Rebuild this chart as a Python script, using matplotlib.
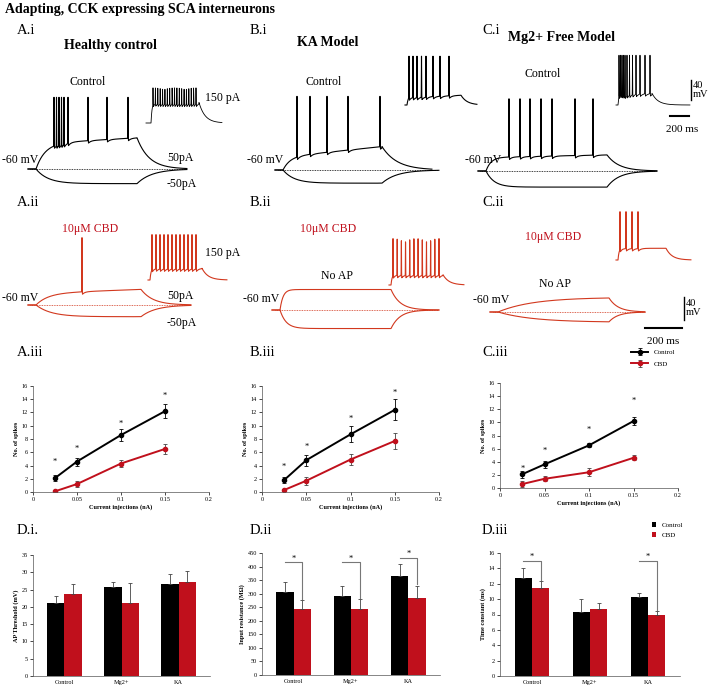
import numpy as np
import matplotlib
matplotlib.use("Agg")
import matplotlib.pyplot as plt

W, H = 709, 690
plt.rcParams['font.family'] = ['Liberation Serif', 'DejaVu Serif']

RED = '#c0101c'
TRED = '#d2381e'

# ---------------- data ----------------
currents = [0.025, 0.05, 0.1, 0.15]
spk_ctrl = {'A': [2.1, 4.6, 8.6, 12.2], 'B': [1.8, 4.8, 8.7, 12.4], 'C': [2.1, 3.6, 6.5, 10.2]}
spk_ctrl_err = {'A': [0.5, 0.6, 0.9, 1.1], 'B': [0.4, 0.8, 1.2, 1.6], 'C': [0.5, 0.5, 0.3, 0.6]}
spk_cbd = {'A': [0.1, 1.2, 4.3, 6.5], 'B': [0.3, 1.7, 4.9, 7.7], 'C': [0.6, 1.4, 2.4, 4.6]}
spk_cbd_err = {'A': [0.2, 0.4, 0.6, 0.7], 'B': [0.2, 0.6, 0.8, 1.2], 'C': [0.4, 0.4, 0.6, 0.4]}
star_y = {'A': [4.6, 6.5, 10.3, 14.5], 'B': [3.8, 6.8, 11.1, 14.9], 'C': [2.9, 5.7, 8.8, 13.2]}

groups = ['Control', 'Mg2+', 'KA']
thr_ctrl = [21.0, 25.8, 26.7]; thr_ctrl_err = [2.0, 1.5, 2.8]
thr_cbd = [23.8, 21.2, 27.3]; thr_cbd_err = [2.8, 5.6, 3.0]
rin_ctrl = [305, 290, 365]; rin_ctrl_err = [37, 37, 43]
rin_cbd = [245, 245, 285]; rin_cbd_err = [30, 37, 45]
tau_ctrl = [12.8, 8.3, 10.3]; tau_ctrl_err = [1.3, 1.7, 0.5]
tau_cbd = [11.5, 8.7, 8.0]; tau_cbd_err = [0.8, 0.8, 0.4]

fig = plt.figure(figsize=(W / 100, H / 100), dpi=100)

def rect(x0, y0, x1, y1):
    return [x0 / W, 1 - y1 / H, (x1 - x0) / W, (y1 - y0) / H]

def ftext(x, y, s, **kw):
    kw.setdefault('fontsize', 9)
    kw.setdefault('va', 'center')
    fig.text(x / W, 1 - y / H, s, **kw)

# ---------------- traces (overlay in pixel space) ----------------
ov = fig.add_axes([0, 0, 1, 1])
ov.set_xlim(0, W); ov.set_ylim(H, 0); ov.axis('off')
MS_PX, MV_PX = 10.0, 2.05

def trace(x0, y0, dur, plateau, drift=0, tau_on=80, tau_off=150, spikes=(), peak=0,
          pre=80, post=500, sign=1, color='k', lw=0.8):
    t = np.arange(-pre, dur + post, 1.0)
    v = np.zeros_like(t)
    on = (t >= 0) & (t < dur)
    v[on] = plateau * (1 - np.exp(-t[on] / tau_on)) + drift * t[on] / dur
    vend = plateau * (1 - np.exp(-dur / tau_on)) + drift
    off = t >= dur
    v[off] = vend * np.exp(-(t[off] - dur) / tau_off)
    v = sign * v
    for s in spikes:
        vs = np.interp(s, t, v)
        v += (peak - vs) * np.exp(-((t - s) / 1.5) ** 2)
        ahp = (t > s + 4) & (t < dur)
        v[ahp] -= 6 * np.exp(-(t[ahp] - s) / 25)
    ov.plot(x0 + t / MS_PX, y0 - v / MV_PX, color=color, lw=lw)

def dotted(x0, x1, y, color):
    ov.plot([x0, x1], [y, y], ls=(0, (1, 1)), color=color, lw=0.6)

# A.i
trace(36, 169, 1010, 52, 12, 90, 120, [180, 205, 230, 255, 280, 320, 520, 710, 920], 147)
trace(36, 169, 1010, 30, 0, 120, 150, sign=-1)
dotted(30, 185, 169, 'k')
trace(151, 123, 480, 42, 0, 10, 60, list(np.linspace(20, 450, 19)), 72, pre=50, post=230, lw=0.6)
# B.i
trace(283, 170, 990, 27, 21, 70, 150, [140, 270, 440, 650, 970], 151)
trace(283, 170, 990, 27, 0, 110, 150, sign=-1, post=570)
dotted(278, 438, 170, 'k')
trace(407, 105, 540, 16, 4, 10, 60, [20, 60, 100, 145, 190, 260, 330, 420], 100, pre=20, post=160)
# C.i
trace(486, 171, 1210, 28, 5, 50, 120, [230, 340, 440, 550, 660, 890, 1070], 148)
trace(486, 171, 1210, 33, 0, 80, 120, sign=-1, post=500)
dotted(480, 655, 171, 'k')
trace(618, 105, 340, 24, 0, 10, 60, [10, 25, 40, 55, 70, 90, 115, 145, 180, 220, 270, 320], 102,
      pre=20, post=380, lw=0.6)
# A.ii
trace(36, 305, 1050, 24, 8, 120, 120, [460], 138, color=TRED)
trace(36, 305, 1050, 24, 0, 150, 150, sign=-1, color=TRED)
dotted(30, 190, 305, TRED)
trace(150, 280, 520, 24, 0, 10, 60, list(np.linspace(20, 460, 12)), 93, pre=20, post=250, color=TRED)
# B.ii
trace(280, 310, 1110, 42, 0, 30, 90, color=TRED, post=480)
trace(280, 310, 1110, 38, 0, 60, 90, sign=-1, color=TRED, post=480)
dotted(275, 438, 310, TRED)
trace(391, 285, 520, 21, 0, 10, 60, list(np.linspace(20, 480, 12)), 95, pre=20, post=210, color=TRED)
# C.ii
trace(498, 312, 1110, 30, 0, 350, 90, color=TRED, post=360)
trace(498, 312, 1110, 21, 0, 350, 90, sign=-1, color=TRED, post=360)
dotted(493, 645, 312, TRED)
trace(618, 260, 480, 24, 0, 10, 60, [20, 80, 140, 200], 99, pre=20, post=250, color=TRED)

# scale bars
ov.plot([691, 691], [80, 100], color='k', lw=1)
ov.plot([670, 689], [116, 116], color='k', lw=1.5)
ov.plot([684, 684], [297, 320], color='k', lw=1)
ov.plot([645, 682], [328, 328], color='k', lw=1.5)
ftext(693, 90, '40\nmV', fontsize=7.5, linespacing=1.0)
ftext(682, 129, '200 ms', fontsize=8, ha='center')
ftext(686, 308, '40\nmV', fontsize=7.5, linespacing=1.0)
ftext(663, 341, '200 ms', fontsize=8, ha='center')

# ---------------- texts ----------------
ftext(5, 9, 'Adapting, CCK expressing SCA interneurons', fontsize=10, fontweight='bold')
for x, s in [(17, 'A.i'), (250, 'B.i'), (482, 'C.i')]:
    ftext(x, 31, s, fontsize=10.5)
for x, s in [(17, 'A.ii'), (250, 'B.ii'), (482, 'C.ii')]:
    ftext(x, 203, s, fontsize=10.5)
for x, s in [(17, 'A.iii'), (250, 'B.iii'), (482, 'C.iii')]:
    ftext(x, 352, s, fontsize=10.5)
for x, s in [(17, 'D.i.'), (250, 'D.ii'), (482, 'D.iii')]:
    ftext(x, 530, s, fontsize=10.5)
ftext(110, 45, 'Healthy control', fontsize=10, fontweight='bold', ha='center')
ftext(328, 42, 'KA Model', fontsize=10, fontweight='bold', ha='center')
ftext(561, 38, 'Mg2+ Free Model', fontsize=10, fontweight='bold', ha='center')
for x, y in [(88, 82), (324, 82), (543, 74)]:
    ftext(x, y, 'Control', fontsize=8.5, ha='center')
ftext(205, 98, '150 pA', fontsize=8.5)
ftext(205, 253, '150 pA', fontsize=8.5)
for x, y in [(2, 160), (247, 160), (465, 160), (2, 298), (243, 299), (473, 300)]:
    ftext(x, y, '-60 mV', fontsize=8.5)
ftext(167, 158, '50pA', fontsize=8.5); ftext(167, 184, '-50pA', fontsize=8.5)
ftext(167, 296, '50pA', fontsize=8.5); ftext(167, 323, '-50pA', fontsize=8.5)
for x, y in [(90, 229), (328, 229), (553, 237)]:
    ftext(x, y, '10μM CBD', fontsize=8.5, color=RED, ha='center')
ftext(337, 276, 'No AP', fontsize=8.5, ha='center')
ftext(555, 284, 'No AP', fontsize=8.5, ha='center')

# ---------------- spike-count plots ----------------
def style(ax, fs=4.5):
    for s in ['top', 'right']:
        ax.spines[s].set_visible(False)
    for s in ['left', 'bottom']:
        ax.spines[s].set_linewidth(0.5); ax.spines[s].set_color('#555')
    ax.tick_params(labelsize=fs, length=2, width=0.5, pad=1.5)

line_rects = {'A': (33, 386, 209, 492), 'B': (262, 386, 439, 492), 'C': (500, 383, 678, 488)}
for k, r in line_rects.items():
    ax = fig.add_axes(rect(*r))
    ax.errorbar(currents, spk_ctrl[k], yerr=spk_ctrl_err[k], color='k', marker='o', ms=3,
                lw=1.4, capsize=1.5, elinewidth=0.6, capthick=0.6, label='Control')
    ax.errorbar(currents, spk_cbd[k], yerr=spk_cbd_err[k], color=RED, ecolor='#444', marker='o', ms=3,
                lw=1.4, capsize=1.5, elinewidth=0.6, capthick=0.6, label='CBD')
    for x, y in zip(currents, star_y[k]):
        ax.text(x, y, '*', ha='center', va='center', fontsize=6)
    ax.set_xlim(0, 0.2); ax.set_ylim(0, 16)
    ax.set_xticks([0, 0.05, 0.1, 0.15, 0.2]); ax.set_xticklabels(['0', '0.05', '0.1', '0.15', '0.2'])
    ax.set_yticks(range(0, 17, 2))
    ax.set_xlabel('Current injections (nA)', fontsize=4.5, fontweight='bold', labelpad=2)
    ax.set_ylabel('No. of spikes', fontsize=4.5, fontweight='bold', labelpad=2)
    style(ax)
    if k == 'C':
        ax.legend(loc='upper right', bbox_to_anchor=(1.02, 1.38), fontsize=5, frameon=False,
                  handlelength=2.5, labelspacing=0.8)

# ---------------- bar plots ----------------
bar_specs = [
    ((33, 555, 210, 676), thr_ctrl, thr_ctrl_err, thr_cbd, thr_cbd_err, (0, 35, 5), 'AP Threshold (mV)', []),
    ((262, 553, 440, 675), rin_ctrl, rin_ctrl_err, rin_cbd, rin_cbd_err, (0, 450, 50), 'Input resistance (MΩ)',
     [(0, 415, 280), (1, 415, 285), (2, 432, 335)]),
    ((500, 553, 680, 676), tau_ctrl, tau_ctrl_err, tau_cbd, tau_cbd_err, (0, 16, 2), 'Time constant (ms)',
     [(0, 15.0, 12.5), (2, 15.0, 8.6)]),
]
xg = np.arange(len(groups))
bw = 0.3
for i, (r, c, ce, d, de, yt, yl, sig) in enumerate(bar_specs):
    ax = fig.add_axes(rect(*r))
    ax.bar(xg - bw / 2, c, bw, color='k', yerr=[np.zeros(3), ce], capsize=1.5,
           error_kw=dict(elinewidth=0.6, capthick=0.6, ecolor='#444'), label='Control')
    ax.bar(xg + bw / 2, d, bw, color=RED, yerr=[np.zeros(3), de], capsize=1.5,
           error_kw=dict(elinewidth=0.6, capthick=0.6, ecolor='#444'), label='CBD')
    ax.set_xlim(-0.55, 2.55); ax.set_ylim(yt[0], yt[1])
    ax.set_yticks(np.arange(yt[0], yt[1] + yt[2] * 0.5, yt[2]))
    ax.set_xticks(xg); ax.set_xticklabels(groups)
    ax.set_ylabel(yl, fontsize=4.5, fontweight='bold', labelpad=2)
    style(ax)
    ax.tick_params(axis='x', length=0, pad=3)
    for g, top, bot in sig:
        ax.plot([g - bw / 2, g + bw / 2, g + bw / 2], [top, top, bot], color='#777', lw=0.8)
        ax.text(g, top, '*', ha='center', va='bottom', fontsize=6)
    if i == 2:
        ax.legend(loc='upper right', bbox_to_anchor=(1.05, 1.3), fontsize=5, frameon=False,
                  handlelength=0.6, handleheight=0.6, labelspacing=0.6)

fig.savefig('out.png', dpi=100)
